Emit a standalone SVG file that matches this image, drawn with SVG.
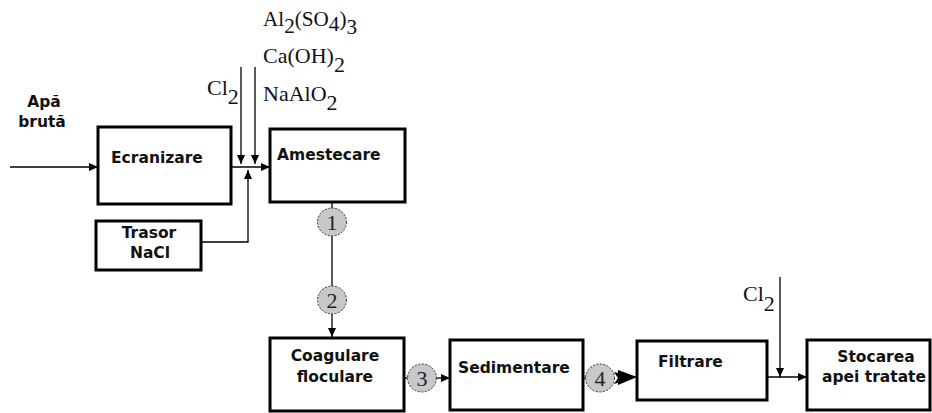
<svg xmlns="http://www.w3.org/2000/svg" width="932" height="413" viewBox="0 0 932 413">
  <defs>
    <marker id="arr" markerWidth="10" markerHeight="10" refX="9" refY="5" orient="auto" markerUnits="userSpaceOnUse">
      <path d="M0,1 L9,5 L0,9 Z" fill="#000"/>
    </marker>
  </defs>
  <style>
    .box { fill: #fff; stroke: #000; stroke-width: 3; }
    .lbl { font-family: "DejaVu Sans", Verdana, sans-serif; font-weight: bold; font-size: 15.5px; fill: #111; }
    .chem { font-family: "Liberation Serif", "Times New Roman", serif; font-size: 22px; fill: #111; }
    .line { fill: none; stroke: #000; stroke-width: 1.3; }
    .num { fill: #c8c8c8; stroke: #333; stroke-width: 1; stroke-dasharray: 2 1.5; }
    .numt { font-family: "Liberation Serif", "Times New Roman", serif; font-size: 22px; fill: #222; text-anchor: middle; }
  </style>

  <rect width="932" height="413" fill="#fff"/>

  <!-- reagent labels -->
  <g id="reagents">
    <text class="chem" x="263" y="26" textLength="94" lengthAdjust="spacingAndGlyphs">Al<tspan dy="7">2</tspan><tspan dy="-7">(SO</tspan><tspan dy="5">4</tspan><tspan dy="-5">)</tspan><tspan dy="8">3</tspan></text>
    <text class="chem" x="263" y="63">Ca(OH)<tspan dy="9">2</tspan></text>
    <text class="chem" x="263" y="101">NaAlO<tspan dy="9">2</tspan></text>
    <text class="chem" x="207" y="95">Cl<tspan dy="9">2</tspan></text>
    <text class="chem" x="743" y="301">Cl<tspan dy="10">2</tspan></text>
  </g>

  <g id="raw-water">
    <text class="lbl" x="44" y="107" text-anchor="middle">Apă</text>
    <text class="lbl" x="42" y="127" text-anchor="middle">brută</text>
  </g>

  <!-- connectors -->
  <g id="connectors">
    <line class="line" x1="10" y1="167" x2="98" y2="167" marker-end="url(#arr)"/>
    <line class="line" x1="231" y1="167" x2="270" y2="167" marker-end="url(#arr)"/>
    <line class="line" x1="241" y1="67" x2="241" y2="164" marker-end="url(#arr)"/>
    <line class="line" x1="255" y1="67" x2="255" y2="164" marker-end="url(#arr)"/>
    <polyline class="line" points="201,242 248,242 248,170" marker-end="url(#arr)"/>
    <line class="line" x1="332" y1="202" x2="332" y2="286"/>
    <line class="line" x1="332" y1="314" x2="332" y2="337" marker-end="url(#arr)"/>
    <line class="line" x1="404" y1="378" x2="408" y2="378"/>
    <line class="line" x1="436" y1="378" x2="450" y2="378" marker-end="url(#arr)"/>
    <line class="line" x1="583" y1="378" x2="586" y2="378"/>
    <polygon points="614,372 637,377 614,384 618,378" fill="#000"/>
    <polygon points="618,370 637,377 618,385" fill="#000"/>
    <line class="line" x1="767" y1="377" x2="807" y2="377" marker-end="url(#arr)"/>
    <line class="line" x1="780" y1="277" x2="780" y2="377" marker-end="url(#arr)"/>
  </g>

  <g id="ecranizare">
    <rect class="box" x="98" y="127" width="133" height="77"/>
    <text class="lbl" x="111" y="163">Ecranizare</text>
  </g>

  <g id="trasor">
    <rect class="box" x="96" y="221" width="105" height="49"/>
    <text class="lbl" x="149" y="238" text-anchor="middle">Trasor</text>
    <text class="lbl" x="150" y="258" text-anchor="middle">NaCl</text>
  </g>

  <g id="amestecare">
    <rect class="box" x="270" y="129" width="135" height="73" stroke-width="3.5"/>
    <text class="lbl" x="277" y="160">Amestecare</text>
  </g>

  <g id="coagulare">
    <rect class="box" x="270" y="338" width="134" height="73" stroke-width="4"/>
    <text class="lbl" x="335" y="361" text-anchor="middle">Coagulare</text>
    <text class="lbl" x="335" y="382" text-anchor="middle">floculare</text>
  </g>

  <g id="sedimentare">
    <rect class="box" x="450" y="340" width="133" height="70"/>
    <text class="lbl" x="458" y="373">Sedimentare</text>
  </g>

  <g id="filtrare">
    <rect class="box" x="637" y="341" width="130" height="59" stroke-width="2.5"/>
    <text class="lbl" x="658" y="367">Filtrare</text>
  </g>

  <g id="stocarea">
    <rect class="box" x="807" y="340" width="123" height="70"/>
    <text class="lbl" x="876" y="362" text-anchor="middle">Stocarea</text>
    <text class="lbl" x="874" y="382" text-anchor="middle">apei tratate</text>
  </g>

  <!-- numbered points -->
  <g id="point-1">
    <ellipse class="num" cx="332" cy="222" rx="14.5" ry="14"/>
    <text class="numt" x="332" y="230">1</text>
  </g>
  <g id="point-2">
    <ellipse class="num" cx="332" cy="300" rx="14.5" ry="14"/>
    <text class="numt" x="332" y="308">2</text>
  </g>
  <g id="point-3">
    <ellipse class="num" cx="422" cy="378" rx="14.5" ry="14"/>
    <text class="numt" x="422" y="386">3</text>
  </g>
  <g id="point-4">
    <ellipse class="num" cx="600" cy="378" rx="14.5" ry="14"/>
    <text class="numt" x="600" y="386">4</text>
  </g>
</svg>
